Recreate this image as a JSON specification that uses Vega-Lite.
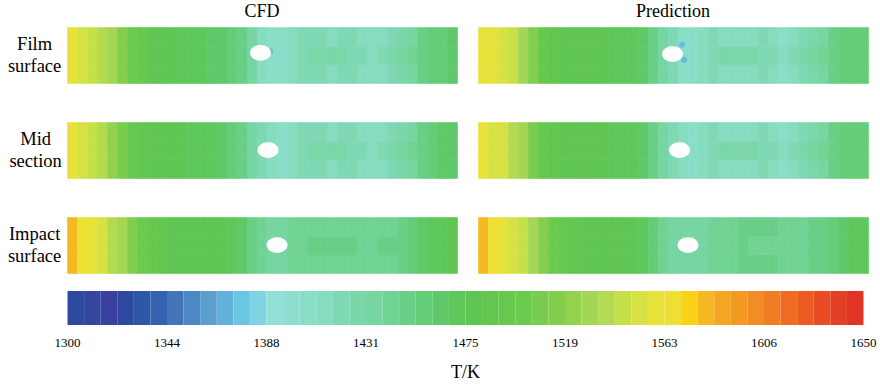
{
"$schema":"https://vega.github.io/schema/vega-lite/v6.json",
"background":"white",
"padding":{"left":7,"top":3,"right":5,"bottom":2},
"autosize":{"type":"pad"},
"config":{"view":{"stroke":null},"font":"Liberation Serif","concat":{"spacing":17}},
"datasets":{
"field":[
{"s":"Film surface","m":"CFD","x":0,"y":0,"T":1560},{"s":"Film surface","m":"CFD","x":0,"y":1,"T":1560},{"s":"Film surface","m":"CFD","x":0,"y":2,"T":1560},
{"s":"Film surface","m":"CFD","x":1,"y":0,"T":1553},{"s":"Film surface","m":"CFD","x":1,"y":1,"T":1553},{"s":"Film surface","m":"CFD","x":1,"y":2,"T":1553},
{"s":"Film surface","m":"CFD","x":2,"y":0,"T":1545},{"s":"Film surface","m":"CFD","x":2,"y":1,"T":1545},{"s":"Film surface","m":"CFD","x":2,"y":2,"T":1545},
{"s":"Film surface","m":"CFD","x":3,"y":0,"T":1538},{"s":"Film surface","m":"CFD","x":3,"y":1,"T":1538},{"s":"Film surface","m":"CFD","x":3,"y":2,"T":1538},
{"s":"Film surface","m":"CFD","x":4,"y":0,"T":1528},{"s":"Film surface","m":"CFD","x":4,"y":1,"T":1528},{"s":"Film surface","m":"CFD","x":4,"y":2,"T":1528},
{"s":"Film surface","m":"CFD","x":5,"y":0,"T":1515},{"s":"Film surface","m":"CFD","x":5,"y":1,"T":1515},{"s":"Film surface","m":"CFD","x":5,"y":2,"T":1515},
{"s":"Film surface","m":"CFD","x":6,"y":0,"T":1500},{"s":"Film surface","m":"CFD","x":6,"y":1,"T":1500},{"s":"Film surface","m":"CFD","x":6,"y":2,"T":1500},
{"s":"Film surface","m":"CFD","x":7,"y":0,"T":1490},{"s":"Film surface","m":"CFD","x":7,"y":1,"T":1490},{"s":"Film surface","m":"CFD","x":7,"y":2,"T":1490},
{"s":"Film surface","m":"CFD","x":8,"y":0,"T":1482},{"s":"Film surface","m":"CFD","x":8,"y":1,"T":1482},{"s":"Film surface","m":"CFD","x":8,"y":2,"T":1482},
{"s":"Film surface","m":"CFD","x":9,"y":0,"T":1480},{"s":"Film surface","m":"CFD","x":9,"y":1,"T":1480},{"s":"Film surface","m":"CFD","x":9,"y":2,"T":1480},
{"s":"Film surface","m":"CFD","x":10,"y":0,"T":1476},{"s":"Film surface","m":"CFD","x":10,"y":1,"T":1476},{"s":"Film surface","m":"CFD","x":10,"y":2,"T":1476},
{"s":"Film surface","m":"CFD","x":11,"y":0,"T":1472},{"s":"Film surface","m":"CFD","x":11,"y":1,"T":1472},{"s":"Film surface","m":"CFD","x":11,"y":2,"T":1472},
{"s":"Film surface","m":"CFD","x":12,"y":0,"T":1470},{"s":"Film surface","m":"CFD","x":12,"y":1,"T":1470},{"s":"Film surface","m":"CFD","x":12,"y":2,"T":1470},
{"s":"Film surface","m":"CFD","x":13,"y":0,"T":1468},{"s":"Film surface","m":"CFD","x":13,"y":1,"T":1468},{"s":"Film surface","m":"CFD","x":13,"y":2,"T":1468},
{"s":"Film surface","m":"CFD","x":14,"y":0,"T":1466},{"s":"Film surface","m":"CFD","x":14,"y":1,"T":1466},{"s":"Film surface","m":"CFD","x":14,"y":2,"T":1466},
{"s":"Film surface","m":"CFD","x":15,"y":0,"T":1462},{"s":"Film surface","m":"CFD","x":15,"y":1,"T":1462},{"s":"Film surface","m":"CFD","x":15,"y":2,"T":1462},
{"s":"Film surface","m":"CFD","x":16,"y":0,"T":1458},{"s":"Film surface","m":"CFD","x":16,"y":1,"T":1458},{"s":"Film surface","m":"CFD","x":16,"y":2,"T":1458},
{"s":"Film surface","m":"CFD","x":17,"y":0,"T":1450},{"s":"Film surface","m":"CFD","x":17,"y":1,"T":1450},{"s":"Film surface","m":"CFD","x":17,"y":2,"T":1450},
{"s":"Film surface","m":"CFD","x":18,"y":0,"T":1436},{"s":"Film surface","m":"CFD","x":18,"y":1,"T":1436},{"s":"Film surface","m":"CFD","x":18,"y":2,"T":1436},
{"s":"Film surface","m":"CFD","x":19,"y":0,"T":1415},{"s":"Film surface","m":"CFD","x":19,"y":1,"T":1415},{"s":"Film surface","m":"CFD","x":19,"y":2,"T":1415},
{"s":"Film surface","m":"CFD","x":20,"y":0,"T":1405},{"s":"Film surface","m":"CFD","x":20,"y":1,"T":1405},{"s":"Film surface","m":"CFD","x":20,"y":2,"T":1405},
{"s":"Film surface","m":"CFD","x":21,"y":0,"T":1408},{"s":"Film surface","m":"CFD","x":21,"y":1,"T":1408},{"s":"Film surface","m":"CFD","x":21,"y":2,"T":1408},
{"s":"Film surface","m":"CFD","x":22,"y":0,"T":1414},{"s":"Film surface","m":"CFD","x":22,"y":1,"T":1414},{"s":"Film surface","m":"CFD","x":22,"y":2,"T":1414},
{"s":"Film surface","m":"CFD","x":23,"y":0,"T":1420},{"s":"Film surface","m":"CFD","x":23,"y":1,"T":1420},{"s":"Film surface","m":"CFD","x":23,"y":2,"T":1420},
{"s":"Film surface","m":"CFD","x":24,"y":0,"T":1418},{"s":"Film surface","m":"CFD","x":24,"y":1,"T":1425},{"s":"Film surface","m":"CFD","x":24,"y":2,"T":1418},
{"s":"Film surface","m":"CFD","x":25,"y":0,"T":1417},{"s":"Film surface","m":"CFD","x":25,"y":1,"T":1427},{"s":"Film surface","m":"CFD","x":25,"y":2,"T":1417},
{"s":"Film surface","m":"CFD","x":26,"y":0,"T":1416},{"s":"Film surface","m":"CFD","x":26,"y":1,"T":1427},{"s":"Film surface","m":"CFD","x":26,"y":2,"T":1416},
{"s":"Film surface","m":"CFD","x":27,"y":0,"T":1417},{"s":"Film surface","m":"CFD","x":27,"y":1,"T":1425},{"s":"Film surface","m":"CFD","x":27,"y":2,"T":1417},
{"s":"Film surface","m":"CFD","x":28,"y":0,"T":1418},{"s":"Film surface","m":"CFD","x":28,"y":1,"T":1422},{"s":"Film surface","m":"CFD","x":28,"y":2,"T":1418},
{"s":"Film surface","m":"CFD","x":29,"y":0,"T":1412},{"s":"Film surface","m":"CFD","x":29,"y":1,"T":1418},{"s":"Film surface","m":"CFD","x":29,"y":2,"T":1412},
{"s":"Film surface","m":"CFD","x":30,"y":0,"T":1410},{"s":"Film surface","m":"CFD","x":30,"y":1,"T":1416},{"s":"Film surface","m":"CFD","x":30,"y":2,"T":1410},
{"s":"Film surface","m":"CFD","x":31,"y":0,"T":1412},{"s":"Film surface","m":"CFD","x":31,"y":1,"T":1418},{"s":"Film surface","m":"CFD","x":31,"y":2,"T":1412},
{"s":"Film surface","m":"CFD","x":32,"y":0,"T":1420},{"s":"Film surface","m":"CFD","x":32,"y":1,"T":1426},{"s":"Film surface","m":"CFD","x":32,"y":2,"T":1420},
{"s":"Film surface","m":"CFD","x":33,"y":0,"T":1428},{"s":"Film surface","m":"CFD","x":33,"y":1,"T":1434},{"s":"Film surface","m":"CFD","x":33,"y":2,"T":1428},
{"s":"Film surface","m":"CFD","x":34,"y":0,"T":1438},{"s":"Film surface","m":"CFD","x":34,"y":1,"T":1442},{"s":"Film surface","m":"CFD","x":34,"y":2,"T":1438},
{"s":"Film surface","m":"CFD","x":35,"y":0,"T":1450},{"s":"Film surface","m":"CFD","x":35,"y":1,"T":1450},{"s":"Film surface","m":"CFD","x":35,"y":2,"T":1450},
{"s":"Film surface","m":"CFD","x":36,"y":0,"T":1456},{"s":"Film surface","m":"CFD","x":36,"y":1,"T":1456},{"s":"Film surface","m":"CFD","x":36,"y":2,"T":1456},
{"s":"Film surface","m":"CFD","x":37,"y":0,"T":1460},{"s":"Film surface","m":"CFD","x":37,"y":1,"T":1460},{"s":"Film surface","m":"CFD","x":37,"y":2,"T":1460},
{"s":"Film surface","m":"CFD","x":38,"y":0,"T":1462},{"s":"Film surface","m":"CFD","x":38,"y":1,"T":1462},{"s":"Film surface","m":"CFD","x":38,"y":2,"T":1462},

{"s":"Mid section","m":"CFD","x":0,"y":0,"T":1562},{"s":"Mid section","m":"CFD","x":0,"y":1,"T":1562},{"s":"Mid section","m":"CFD","x":0,"y":2,"T":1562},
{"s":"Mid section","m":"CFD","x":1,"y":0,"T":1550},{"s":"Mid section","m":"CFD","x":1,"y":1,"T":1550},{"s":"Mid section","m":"CFD","x":1,"y":2,"T":1550},
{"s":"Mid section","m":"CFD","x":2,"y":0,"T":1543},{"s":"Mid section","m":"CFD","x":2,"y":1,"T":1543},{"s":"Mid section","m":"CFD","x":2,"y":2,"T":1543},
{"s":"Mid section","m":"CFD","x":3,"y":0,"T":1535},{"s":"Mid section","m":"CFD","x":3,"y":1,"T":1535},{"s":"Mid section","m":"CFD","x":3,"y":2,"T":1535},
{"s":"Mid section","m":"CFD","x":4,"y":0,"T":1522},{"s":"Mid section","m":"CFD","x":4,"y":1,"T":1522},{"s":"Mid section","m":"CFD","x":4,"y":2,"T":1522},
{"s":"Mid section","m":"CFD","x":5,"y":0,"T":1505},{"s":"Mid section","m":"CFD","x":5,"y":1,"T":1505},{"s":"Mid section","m":"CFD","x":5,"y":2,"T":1505},
{"s":"Mid section","m":"CFD","x":6,"y":0,"T":1492},{"s":"Mid section","m":"CFD","x":6,"y":1,"T":1492},{"s":"Mid section","m":"CFD","x":6,"y":2,"T":1492},
{"s":"Mid section","m":"CFD","x":7,"y":0,"T":1486},{"s":"Mid section","m":"CFD","x":7,"y":1,"T":1486},{"s":"Mid section","m":"CFD","x":7,"y":2,"T":1486},
{"s":"Mid section","m":"CFD","x":8,"y":0,"T":1482},{"s":"Mid section","m":"CFD","x":8,"y":1,"T":1482},{"s":"Mid section","m":"CFD","x":8,"y":2,"T":1482},
{"s":"Mid section","m":"CFD","x":9,"y":0,"T":1480},{"s":"Mid section","m":"CFD","x":9,"y":1,"T":1480},{"s":"Mid section","m":"CFD","x":9,"y":2,"T":1480},
{"s":"Mid section","m":"CFD","x":10,"y":0,"T":1478},{"s":"Mid section","m":"CFD","x":10,"y":1,"T":1478},{"s":"Mid section","m":"CFD","x":10,"y":2,"T":1478},
{"s":"Mid section","m":"CFD","x":11,"y":0,"T":1476},{"s":"Mid section","m":"CFD","x":11,"y":1,"T":1476},{"s":"Mid section","m":"CFD","x":11,"y":2,"T":1476},
{"s":"Mid section","m":"CFD","x":12,"y":0,"T":1474},{"s":"Mid section","m":"CFD","x":12,"y":1,"T":1474},{"s":"Mid section","m":"CFD","x":12,"y":2,"T":1474},
{"s":"Mid section","m":"CFD","x":13,"y":0,"T":1472},{"s":"Mid section","m":"CFD","x":13,"y":1,"T":1472},{"s":"Mid section","m":"CFD","x":13,"y":2,"T":1472},
{"s":"Mid section","m":"CFD","x":14,"y":0,"T":1470},{"s":"Mid section","m":"CFD","x":14,"y":1,"T":1470},{"s":"Mid section","m":"CFD","x":14,"y":2,"T":1470},
{"s":"Mid section","m":"CFD","x":15,"y":0,"T":1466},{"s":"Mid section","m":"CFD","x":15,"y":1,"T":1466},{"s":"Mid section","m":"CFD","x":15,"y":2,"T":1466},
{"s":"Mid section","m":"CFD","x":16,"y":0,"T":1460},{"s":"Mid section","m":"CFD","x":16,"y":1,"T":1460},{"s":"Mid section","m":"CFD","x":16,"y":2,"T":1460},
{"s":"Mid section","m":"CFD","x":17,"y":0,"T":1448},{"s":"Mid section","m":"CFD","x":17,"y":1,"T":1448},{"s":"Mid section","m":"CFD","x":17,"y":2,"T":1448},
{"s":"Mid section","m":"CFD","x":18,"y":0,"T":1432},{"s":"Mid section","m":"CFD","x":18,"y":1,"T":1432},{"s":"Mid section","m":"CFD","x":18,"y":2,"T":1432},
{"s":"Mid section","m":"CFD","x":19,"y":0,"T":1418},{"s":"Mid section","m":"CFD","x":19,"y":1,"T":1418},{"s":"Mid section","m":"CFD","x":19,"y":2,"T":1418},
{"s":"Mid section","m":"CFD","x":20,"y":0,"T":1410},{"s":"Mid section","m":"CFD","x":20,"y":1,"T":1410},{"s":"Mid section","m":"CFD","x":20,"y":2,"T":1410},
{"s":"Mid section","m":"CFD","x":21,"y":0,"T":1408},{"s":"Mid section","m":"CFD","x":21,"y":1,"T":1408},{"s":"Mid section","m":"CFD","x":21,"y":2,"T":1408},
{"s":"Mid section","m":"CFD","x":22,"y":0,"T":1414},{"s":"Mid section","m":"CFD","x":22,"y":1,"T":1414},{"s":"Mid section","m":"CFD","x":22,"y":2,"T":1414},
{"s":"Mid section","m":"CFD","x":23,"y":0,"T":1420},{"s":"Mid section","m":"CFD","x":23,"y":1,"T":1420},{"s":"Mid section","m":"CFD","x":23,"y":2,"T":1420},
{"s":"Mid section","m":"CFD","x":24,"y":0,"T":1418},{"s":"Mid section","m":"CFD","x":24,"y":1,"T":1425},{"s":"Mid section","m":"CFD","x":24,"y":2,"T":1418},
{"s":"Mid section","m":"CFD","x":25,"y":0,"T":1417},{"s":"Mid section","m":"CFD","x":25,"y":1,"T":1427},{"s":"Mid section","m":"CFD","x":25,"y":2,"T":1417},
{"s":"Mid section","m":"CFD","x":26,"y":0,"T":1416},{"s":"Mid section","m":"CFD","x":26,"y":1,"T":1427},{"s":"Mid section","m":"CFD","x":26,"y":2,"T":1416},
{"s":"Mid section","m":"CFD","x":27,"y":0,"T":1417},{"s":"Mid section","m":"CFD","x":27,"y":1,"T":1425},{"s":"Mid section","m":"CFD","x":27,"y":2,"T":1417},
{"s":"Mid section","m":"CFD","x":28,"y":0,"T":1418},{"s":"Mid section","m":"CFD","x":28,"y":1,"T":1422},{"s":"Mid section","m":"CFD","x":28,"y":2,"T":1418},
{"s":"Mid section","m":"CFD","x":29,"y":0,"T":1412},{"s":"Mid section","m":"CFD","x":29,"y":1,"T":1418},{"s":"Mid section","m":"CFD","x":29,"y":2,"T":1412},
{"s":"Mid section","m":"CFD","x":30,"y":0,"T":1410},{"s":"Mid section","m":"CFD","x":30,"y":1,"T":1416},{"s":"Mid section","m":"CFD","x":30,"y":2,"T":1410},
{"s":"Mid section","m":"CFD","x":31,"y":0,"T":1412},{"s":"Mid section","m":"CFD","x":31,"y":1,"T":1418},{"s":"Mid section","m":"CFD","x":31,"y":2,"T":1412},
{"s":"Mid section","m":"CFD","x":32,"y":0,"T":1420},{"s":"Mid section","m":"CFD","x":32,"y":1,"T":1426},{"s":"Mid section","m":"CFD","x":32,"y":2,"T":1420},
{"s":"Mid section","m":"CFD","x":33,"y":0,"T":1428},{"s":"Mid section","m":"CFD","x":33,"y":1,"T":1434},{"s":"Mid section","m":"CFD","x":33,"y":2,"T":1428},
{"s":"Mid section","m":"CFD","x":34,"y":0,"T":1438},{"s":"Mid section","m":"CFD","x":34,"y":1,"T":1442},{"s":"Mid section","m":"CFD","x":34,"y":2,"T":1438},
{"s":"Mid section","m":"CFD","x":35,"y":0,"T":1452},{"s":"Mid section","m":"CFD","x":35,"y":1,"T":1452},{"s":"Mid section","m":"CFD","x":35,"y":2,"T":1452},
{"s":"Mid section","m":"CFD","x":36,"y":0,"T":1458},{"s":"Mid section","m":"CFD","x":36,"y":1,"T":1458},{"s":"Mid section","m":"CFD","x":36,"y":2,"T":1458},
{"s":"Mid section","m":"CFD","x":37,"y":0,"T":1462},{"s":"Mid section","m":"CFD","x":37,"y":1,"T":1462},{"s":"Mid section","m":"CFD","x":37,"y":2,"T":1462},
{"s":"Mid section","m":"CFD","x":38,"y":0,"T":1464},{"s":"Mid section","m":"CFD","x":38,"y":1,"T":1464},{"s":"Mid section","m":"CFD","x":38,"y":2,"T":1464},

{"s":"Impact surface","m":"CFD","x":0,"y":0,"T":1582},{"s":"Impact surface","m":"CFD","x":0,"y":1,"T":1582},{"s":"Impact surface","m":"CFD","x":0,"y":2,"T":1582},
{"s":"Impact surface","m":"CFD","x":1,"y":0,"T":1563},{"s":"Impact surface","m":"CFD","x":1,"y":1,"T":1563},{"s":"Impact surface","m":"CFD","x":1,"y":2,"T":1563},
{"s":"Impact surface","m":"CFD","x":2,"y":0,"T":1558},{"s":"Impact surface","m":"CFD","x":2,"y":1,"T":1558},{"s":"Impact surface","m":"CFD","x":2,"y":2,"T":1558},
{"s":"Impact surface","m":"CFD","x":3,"y":0,"T":1550},{"s":"Impact surface","m":"CFD","x":3,"y":1,"T":1550},{"s":"Impact surface","m":"CFD","x":3,"y":2,"T":1550},
{"s":"Impact surface","m":"CFD","x":4,"y":0,"T":1540},{"s":"Impact surface","m":"CFD","x":4,"y":1,"T":1540},{"s":"Impact surface","m":"CFD","x":4,"y":2,"T":1540},
{"s":"Impact surface","m":"CFD","x":5,"y":0,"T":1528},{"s":"Impact surface","m":"CFD","x":5,"y":1,"T":1528},{"s":"Impact surface","m":"CFD","x":5,"y":2,"T":1528},
{"s":"Impact surface","m":"CFD","x":6,"y":0,"T":1515},{"s":"Impact surface","m":"CFD","x":6,"y":1,"T":1515},{"s":"Impact surface","m":"CFD","x":6,"y":2,"T":1515},
{"s":"Impact surface","m":"CFD","x":7,"y":0,"T":1500},{"s":"Impact surface","m":"CFD","x":7,"y":1,"T":1500},{"s":"Impact surface","m":"CFD","x":7,"y":2,"T":1500},
{"s":"Impact surface","m":"CFD","x":8,"y":0,"T":1490},{"s":"Impact surface","m":"CFD","x":8,"y":1,"T":1490},{"s":"Impact surface","m":"CFD","x":8,"y":2,"T":1490},
{"s":"Impact surface","m":"CFD","x":9,"y":0,"T":1483},{"s":"Impact surface","m":"CFD","x":9,"y":1,"T":1483},{"s":"Impact surface","m":"CFD","x":9,"y":2,"T":1483},
{"s":"Impact surface","m":"CFD","x":10,"y":0,"T":1480},{"s":"Impact surface","m":"CFD","x":10,"y":1,"T":1480},{"s":"Impact surface","m":"CFD","x":10,"y":2,"T":1480},
{"s":"Impact surface","m":"CFD","x":11,"y":0,"T":1479},{"s":"Impact surface","m":"CFD","x":11,"y":1,"T":1479},{"s":"Impact surface","m":"CFD","x":11,"y":2,"T":1479},
{"s":"Impact surface","m":"CFD","x":12,"y":0,"T":1478},{"s":"Impact surface","m":"CFD","x":12,"y":1,"T":1478},{"s":"Impact surface","m":"CFD","x":12,"y":2,"T":1478},
{"s":"Impact surface","m":"CFD","x":13,"y":0,"T":1477},{"s":"Impact surface","m":"CFD","x":13,"y":1,"T":1477},{"s":"Impact surface","m":"CFD","x":13,"y":2,"T":1477},
{"s":"Impact surface","m":"CFD","x":14,"y":0,"T":1476},{"s":"Impact surface","m":"CFD","x":14,"y":1,"T":1476},{"s":"Impact surface","m":"CFD","x":14,"y":2,"T":1476},
{"s":"Impact surface","m":"CFD","x":15,"y":0,"T":1475},{"s":"Impact surface","m":"CFD","x":15,"y":1,"T":1475},{"s":"Impact surface","m":"CFD","x":15,"y":2,"T":1475},
{"s":"Impact surface","m":"CFD","x":16,"y":0,"T":1474},{"s":"Impact surface","m":"CFD","x":16,"y":1,"T":1474},{"s":"Impact surface","m":"CFD","x":16,"y":2,"T":1474},
{"s":"Impact surface","m":"CFD","x":17,"y":0,"T":1462},{"s":"Impact surface","m":"CFD","x":17,"y":1,"T":1462},{"s":"Impact surface","m":"CFD","x":17,"y":2,"T":1462},
{"s":"Impact surface","m":"CFD","x":18,"y":0,"T":1448},{"s":"Impact surface","m":"CFD","x":18,"y":1,"T":1448},{"s":"Impact surface","m":"CFD","x":18,"y":2,"T":1448},
{"s":"Impact surface","m":"CFD","x":19,"y":0,"T":1440},{"s":"Impact surface","m":"CFD","x":19,"y":1,"T":1440},{"s":"Impact surface","m":"CFD","x":19,"y":2,"T":1440},
{"s":"Impact surface","m":"CFD","x":20,"y":0,"T":1436},{"s":"Impact surface","m":"CFD","x":20,"y":1,"T":1436},{"s":"Impact surface","m":"CFD","x":20,"y":2,"T":1436},
{"s":"Impact surface","m":"CFD","x":21,"y":0,"T":1436},{"s":"Impact surface","m":"CFD","x":21,"y":1,"T":1436},{"s":"Impact surface","m":"CFD","x":21,"y":2,"T":1436},
{"s":"Impact surface","m":"CFD","x":22,"y":0,"T":1440},{"s":"Impact surface","m":"CFD","x":22,"y":1,"T":1440},{"s":"Impact surface","m":"CFD","x":22,"y":2,"T":1440},
{"s":"Impact surface","m":"CFD","x":23,"y":0,"T":1444},{"s":"Impact surface","m":"CFD","x":23,"y":1,"T":1444},{"s":"Impact surface","m":"CFD","x":23,"y":2,"T":1444},
{"s":"Impact surface","m":"CFD","x":24,"y":0,"T":1444},{"s":"Impact surface","m":"CFD","x":24,"y":1,"T":1448},{"s":"Impact surface","m":"CFD","x":24,"y":2,"T":1444},
{"s":"Impact surface","m":"CFD","x":25,"y":0,"T":1442},{"s":"Impact surface","m":"CFD","x":25,"y":1,"T":1450},{"s":"Impact surface","m":"CFD","x":25,"y":2,"T":1442},
{"s":"Impact surface","m":"CFD","x":26,"y":0,"T":1442},{"s":"Impact surface","m":"CFD","x":26,"y":1,"T":1450},{"s":"Impact surface","m":"CFD","x":26,"y":2,"T":1442},
{"s":"Impact surface","m":"CFD","x":27,"y":0,"T":1444},{"s":"Impact surface","m":"CFD","x":27,"y":1,"T":1448},{"s":"Impact surface","m":"CFD","x":27,"y":2,"T":1444},
{"s":"Impact surface","m":"CFD","x":28,"y":0,"T":1442},{"s":"Impact surface","m":"CFD","x":28,"y":1,"T":1446},{"s":"Impact surface","m":"CFD","x":28,"y":2,"T":1442},
{"s":"Impact surface","m":"CFD","x":29,"y":0,"T":1440},{"s":"Impact surface","m":"CFD","x":29,"y":1,"T":1444},{"s":"Impact surface","m":"CFD","x":29,"y":2,"T":1440},
{"s":"Impact surface","m":"CFD","x":30,"y":0,"T":1440},{"s":"Impact surface","m":"CFD","x":30,"y":1,"T":1444},{"s":"Impact surface","m":"CFD","x":30,"y":2,"T":1440},
{"s":"Impact surface","m":"CFD","x":31,"y":0,"T":1442},{"s":"Impact surface","m":"CFD","x":31,"y":1,"T":1446},{"s":"Impact surface","m":"CFD","x":31,"y":2,"T":1442},
{"s":"Impact surface","m":"CFD","x":32,"y":0,"T":1444},{"s":"Impact surface","m":"CFD","x":32,"y":1,"T":1448},{"s":"Impact surface","m":"CFD","x":32,"y":2,"T":1444},
{"s":"Impact surface","m":"CFD","x":33,"y":0,"T":1448},{"s":"Impact surface","m":"CFD","x":33,"y":1,"T":1450},{"s":"Impact surface","m":"CFD","x":33,"y":2,"T":1448},
{"s":"Impact surface","m":"CFD","x":34,"y":0,"T":1455},{"s":"Impact surface","m":"CFD","x":34,"y":1,"T":1455},{"s":"Impact surface","m":"CFD","x":34,"y":2,"T":1455},
{"s":"Impact surface","m":"CFD","x":35,"y":0,"T":1462},{"s":"Impact surface","m":"CFD","x":35,"y":1,"T":1462},{"s":"Impact surface","m":"CFD","x":35,"y":2,"T":1462},
{"s":"Impact surface","m":"CFD","x":36,"y":0,"T":1470},{"s":"Impact surface","m":"CFD","x":36,"y":1,"T":1470},{"s":"Impact surface","m":"CFD","x":36,"y":2,"T":1470},
{"s":"Impact surface","m":"CFD","x":37,"y":0,"T":1474},{"s":"Impact surface","m":"CFD","x":37,"y":1,"T":1474},{"s":"Impact surface","m":"CFD","x":37,"y":2,"T":1474},
{"s":"Impact surface","m":"CFD","x":38,"y":0,"T":1476},{"s":"Impact surface","m":"CFD","x":38,"y":1,"T":1476},{"s":"Impact surface","m":"CFD","x":38,"y":2,"T":1476},

{"s":"Film surface","m":"Prediction","x":0,"y":0,"T":1560},{"s":"Film surface","m":"Prediction","x":0,"y":1,"T":1560},{"s":"Film surface","m":"Prediction","x":0,"y":2,"T":1560},
{"s":"Film surface","m":"Prediction","x":1,"y":0,"T":1556},{"s":"Film surface","m":"Prediction","x":1,"y":1,"T":1556},{"s":"Film surface","m":"Prediction","x":1,"y":2,"T":1556},
{"s":"Film surface","m":"Prediction","x":2,"y":0,"T":1552},{"s":"Film surface","m":"Prediction","x":2,"y":1,"T":1552},{"s":"Film surface","m":"Prediction","x":2,"y":2,"T":1552},
{"s":"Film surface","m":"Prediction","x":3,"y":0,"T":1542},{"s":"Film surface","m":"Prediction","x":3,"y":1,"T":1542},{"s":"Film surface","m":"Prediction","x":3,"y":2,"T":1542},
{"s":"Film surface","m":"Prediction","x":4,"y":0,"T":1530},{"s":"Film surface","m":"Prediction","x":4,"y":1,"T":1530},{"s":"Film surface","m":"Prediction","x":4,"y":2,"T":1530},
{"s":"Film surface","m":"Prediction","x":5,"y":0,"T":1512},{"s":"Film surface","m":"Prediction","x":5,"y":1,"T":1512},{"s":"Film surface","m":"Prediction","x":5,"y":2,"T":1512},
{"s":"Film surface","m":"Prediction","x":6,"y":0,"T":1495},{"s":"Film surface","m":"Prediction","x":6,"y":1,"T":1495},{"s":"Film surface","m":"Prediction","x":6,"y":2,"T":1495},
{"s":"Film surface","m":"Prediction","x":7,"y":0,"T":1486},{"s":"Film surface","m":"Prediction","x":7,"y":1,"T":1486},{"s":"Film surface","m":"Prediction","x":7,"y":2,"T":1486},
{"s":"Film surface","m":"Prediction","x":8,"y":0,"T":1482},{"s":"Film surface","m":"Prediction","x":8,"y":1,"T":1482},{"s":"Film surface","m":"Prediction","x":8,"y":2,"T":1482},
{"s":"Film surface","m":"Prediction","x":9,"y":0,"T":1480},{"s":"Film surface","m":"Prediction","x":9,"y":1,"T":1480},{"s":"Film surface","m":"Prediction","x":9,"y":2,"T":1480},
{"s":"Film surface","m":"Prediction","x":10,"y":0,"T":1478},{"s":"Film surface","m":"Prediction","x":10,"y":1,"T":1478},{"s":"Film surface","m":"Prediction","x":10,"y":2,"T":1478},
{"s":"Film surface","m":"Prediction","x":11,"y":0,"T":1476},{"s":"Film surface","m":"Prediction","x":11,"y":1,"T":1476},{"s":"Film surface","m":"Prediction","x":11,"y":2,"T":1476},
{"s":"Film surface","m":"Prediction","x":12,"y":0,"T":1475},{"s":"Film surface","m":"Prediction","x":12,"y":1,"T":1475},{"s":"Film surface","m":"Prediction","x":12,"y":2,"T":1475},
{"s":"Film surface","m":"Prediction","x":13,"y":0,"T":1474},{"s":"Film surface","m":"Prediction","x":13,"y":1,"T":1474},{"s":"Film surface","m":"Prediction","x":13,"y":2,"T":1474},
{"s":"Film surface","m":"Prediction","x":14,"y":0,"T":1472},{"s":"Film surface","m":"Prediction","x":14,"y":1,"T":1472},{"s":"Film surface","m":"Prediction","x":14,"y":2,"T":1472},
{"s":"Film surface","m":"Prediction","x":15,"y":0,"T":1468},{"s":"Film surface","m":"Prediction","x":15,"y":1,"T":1468},{"s":"Film surface","m":"Prediction","x":15,"y":2,"T":1468},
{"s":"Film surface","m":"Prediction","x":16,"y":0,"T":1462},{"s":"Film surface","m":"Prediction","x":16,"y":1,"T":1462},{"s":"Film surface","m":"Prediction","x":16,"y":2,"T":1462},
{"s":"Film surface","m":"Prediction","x":17,"y":0,"T":1450},{"s":"Film surface","m":"Prediction","x":17,"y":1,"T":1450},{"s":"Film surface","m":"Prediction","x":17,"y":2,"T":1450},
{"s":"Film surface","m":"Prediction","x":18,"y":0,"T":1435},{"s":"Film surface","m":"Prediction","x":18,"y":1,"T":1435},{"s":"Film surface","m":"Prediction","x":18,"y":2,"T":1435},
{"s":"Film surface","m":"Prediction","x":19,"y":0,"T":1418},{"s":"Film surface","m":"Prediction","x":19,"y":1,"T":1418},{"s":"Film surface","m":"Prediction","x":19,"y":2,"T":1418},
{"s":"Film surface","m":"Prediction","x":20,"y":0,"T":1408},{"s":"Film surface","m":"Prediction","x":20,"y":1,"T":1408},{"s":"Film surface","m":"Prediction","x":20,"y":2,"T":1408},
{"s":"Film surface","m":"Prediction","x":21,"y":0,"T":1406},{"s":"Film surface","m":"Prediction","x":21,"y":1,"T":1406},{"s":"Film surface","m":"Prediction","x":21,"y":2,"T":1406},
{"s":"Film surface","m":"Prediction","x":22,"y":0,"T":1410},{"s":"Film surface","m":"Prediction","x":22,"y":1,"T":1410},{"s":"Film surface","m":"Prediction","x":22,"y":2,"T":1410},
{"s":"Film surface","m":"Prediction","x":23,"y":0,"T":1418},{"s":"Film surface","m":"Prediction","x":23,"y":1,"T":1418},{"s":"Film surface","m":"Prediction","x":23,"y":2,"T":1418},
{"s":"Film surface","m":"Prediction","x":24,"y":0,"T":1416},{"s":"Film surface","m":"Prediction","x":24,"y":1,"T":1425},{"s":"Film surface","m":"Prediction","x":24,"y":2,"T":1416},
{"s":"Film surface","m":"Prediction","x":25,"y":0,"T":1415},{"s":"Film surface","m":"Prediction","x":25,"y":1,"T":1427},{"s":"Film surface","m":"Prediction","x":25,"y":2,"T":1415},
{"s":"Film surface","m":"Prediction","x":26,"y":0,"T":1415},{"s":"Film surface","m":"Prediction","x":26,"y":1,"T":1427},{"s":"Film surface","m":"Prediction","x":26,"y":2,"T":1415},
{"s":"Film surface","m":"Prediction","x":27,"y":0,"T":1416},{"s":"Film surface","m":"Prediction","x":27,"y":1,"T":1425},{"s":"Film surface","m":"Prediction","x":27,"y":2,"T":1416},
{"s":"Film surface","m":"Prediction","x":28,"y":0,"T":1418},{"s":"Film surface","m":"Prediction","x":28,"y":1,"T":1422},{"s":"Film surface","m":"Prediction","x":28,"y":2,"T":1418},
{"s":"Film surface","m":"Prediction","x":29,"y":0,"T":1410},{"s":"Film surface","m":"Prediction","x":29,"y":1,"T":1418},{"s":"Film surface","m":"Prediction","x":29,"y":2,"T":1410},
{"s":"Film surface","m":"Prediction","x":30,"y":0,"T":1408},{"s":"Film surface","m":"Prediction","x":30,"y":1,"T":1416},{"s":"Film surface","m":"Prediction","x":30,"y":2,"T":1408},
{"s":"Film surface","m":"Prediction","x":31,"y":0,"T":1410},{"s":"Film surface","m":"Prediction","x":31,"y":1,"T":1418},{"s":"Film surface","m":"Prediction","x":31,"y":2,"T":1410},
{"s":"Film surface","m":"Prediction","x":32,"y":0,"T":1420},{"s":"Film surface","m":"Prediction","x":32,"y":1,"T":1426},{"s":"Film surface","m":"Prediction","x":32,"y":2,"T":1420},
{"s":"Film surface","m":"Prediction","x":33,"y":0,"T":1428},{"s":"Film surface","m":"Prediction","x":33,"y":1,"T":1434},{"s":"Film surface","m":"Prediction","x":33,"y":2,"T":1428},
{"s":"Film surface","m":"Prediction","x":34,"y":0,"T":1438},{"s":"Film surface","m":"Prediction","x":34,"y":1,"T":1442},{"s":"Film surface","m":"Prediction","x":34,"y":2,"T":1438},
{"s":"Film surface","m":"Prediction","x":35,"y":0,"T":1450},{"s":"Film surface","m":"Prediction","x":35,"y":1,"T":1450},{"s":"Film surface","m":"Prediction","x":35,"y":2,"T":1450},
{"s":"Film surface","m":"Prediction","x":36,"y":0,"T":1455},{"s":"Film surface","m":"Prediction","x":36,"y":1,"T":1455},{"s":"Film surface","m":"Prediction","x":36,"y":2,"T":1455},
{"s":"Film surface","m":"Prediction","x":37,"y":0,"T":1458},{"s":"Film surface","m":"Prediction","x":37,"y":1,"T":1458},{"s":"Film surface","m":"Prediction","x":37,"y":2,"T":1458},
{"s":"Film surface","m":"Prediction","x":38,"y":0,"T":1460},{"s":"Film surface","m":"Prediction","x":38,"y":1,"T":1460},{"s":"Film surface","m":"Prediction","x":38,"y":2,"T":1460},

{"s":"Mid section","m":"Prediction","x":0,"y":0,"T":1560},{"s":"Mid section","m":"Prediction","x":0,"y":1,"T":1560},{"s":"Mid section","m":"Prediction","x":0,"y":2,"T":1560},
{"s":"Mid section","m":"Prediction","x":1,"y":0,"T":1555},{"s":"Mid section","m":"Prediction","x":1,"y":1,"T":1555},{"s":"Mid section","m":"Prediction","x":1,"y":2,"T":1555},
{"s":"Mid section","m":"Prediction","x":2,"y":0,"T":1548},{"s":"Mid section","m":"Prediction","x":2,"y":1,"T":1548},{"s":"Mid section","m":"Prediction","x":2,"y":2,"T":1548},
{"s":"Mid section","m":"Prediction","x":3,"y":0,"T":1540},{"s":"Mid section","m":"Prediction","x":3,"y":1,"T":1540},{"s":"Mid section","m":"Prediction","x":3,"y":2,"T":1540},
{"s":"Mid section","m":"Prediction","x":4,"y":0,"T":1528},{"s":"Mid section","m":"Prediction","x":4,"y":1,"T":1528},{"s":"Mid section","m":"Prediction","x":4,"y":2,"T":1528},
{"s":"Mid section","m":"Prediction","x":5,"y":0,"T":1510},{"s":"Mid section","m":"Prediction","x":5,"y":1,"T":1510},{"s":"Mid section","m":"Prediction","x":5,"y":2,"T":1510},
{"s":"Mid section","m":"Prediction","x":6,"y":0,"T":1494},{"s":"Mid section","m":"Prediction","x":6,"y":1,"T":1494},{"s":"Mid section","m":"Prediction","x":6,"y":2,"T":1494},
{"s":"Mid section","m":"Prediction","x":7,"y":0,"T":1486},{"s":"Mid section","m":"Prediction","x":7,"y":1,"T":1486},{"s":"Mid section","m":"Prediction","x":7,"y":2,"T":1486},
{"s":"Mid section","m":"Prediction","x":8,"y":0,"T":1482},{"s":"Mid section","m":"Prediction","x":8,"y":1,"T":1482},{"s":"Mid section","m":"Prediction","x":8,"y":2,"T":1482},
{"s":"Mid section","m":"Prediction","x":9,"y":0,"T":1480},{"s":"Mid section","m":"Prediction","x":9,"y":1,"T":1480},{"s":"Mid section","m":"Prediction","x":9,"y":2,"T":1480},
{"s":"Mid section","m":"Prediction","x":10,"y":0,"T":1478},{"s":"Mid section","m":"Prediction","x":10,"y":1,"T":1478},{"s":"Mid section","m":"Prediction","x":10,"y":2,"T":1478},
{"s":"Mid section","m":"Prediction","x":11,"y":0,"T":1476},{"s":"Mid section","m":"Prediction","x":11,"y":1,"T":1476},{"s":"Mid section","m":"Prediction","x":11,"y":2,"T":1476},
{"s":"Mid section","m":"Prediction","x":12,"y":0,"T":1475},{"s":"Mid section","m":"Prediction","x":12,"y":1,"T":1475},{"s":"Mid section","m":"Prediction","x":12,"y":2,"T":1475},
{"s":"Mid section","m":"Prediction","x":13,"y":0,"T":1474},{"s":"Mid section","m":"Prediction","x":13,"y":1,"T":1474},{"s":"Mid section","m":"Prediction","x":13,"y":2,"T":1474},
{"s":"Mid section","m":"Prediction","x":14,"y":0,"T":1472},{"s":"Mid section","m":"Prediction","x":14,"y":1,"T":1472},{"s":"Mid section","m":"Prediction","x":14,"y":2,"T":1472},
{"s":"Mid section","m":"Prediction","x":15,"y":0,"T":1468},{"s":"Mid section","m":"Prediction","x":15,"y":1,"T":1468},{"s":"Mid section","m":"Prediction","x":15,"y":2,"T":1468},
{"s":"Mid section","m":"Prediction","x":16,"y":0,"T":1462},{"s":"Mid section","m":"Prediction","x":16,"y":1,"T":1462},{"s":"Mid section","m":"Prediction","x":16,"y":2,"T":1462},
{"s":"Mid section","m":"Prediction","x":17,"y":0,"T":1450},{"s":"Mid section","m":"Prediction","x":17,"y":1,"T":1450},{"s":"Mid section","m":"Prediction","x":17,"y":2,"T":1450},
{"s":"Mid section","m":"Prediction","x":18,"y":0,"T":1436},{"s":"Mid section","m":"Prediction","x":18,"y":1,"T":1436},{"s":"Mid section","m":"Prediction","x":18,"y":2,"T":1436},
{"s":"Mid section","m":"Prediction","x":19,"y":0,"T":1420},{"s":"Mid section","m":"Prediction","x":19,"y":1,"T":1420},{"s":"Mid section","m":"Prediction","x":19,"y":2,"T":1420},
{"s":"Mid section","m":"Prediction","x":20,"y":0,"T":1410},{"s":"Mid section","m":"Prediction","x":20,"y":1,"T":1410},{"s":"Mid section","m":"Prediction","x":20,"y":2,"T":1410},
{"s":"Mid section","m":"Prediction","x":21,"y":0,"T":1408},{"s":"Mid section","m":"Prediction","x":21,"y":1,"T":1408},{"s":"Mid section","m":"Prediction","x":21,"y":2,"T":1408},
{"s":"Mid section","m":"Prediction","x":22,"y":0,"T":1412},{"s":"Mid section","m":"Prediction","x":22,"y":1,"T":1412},{"s":"Mid section","m":"Prediction","x":22,"y":2,"T":1412},
{"s":"Mid section","m":"Prediction","x":23,"y":0,"T":1418},{"s":"Mid section","m":"Prediction","x":23,"y":1,"T":1418},{"s":"Mid section","m":"Prediction","x":23,"y":2,"T":1418},
{"s":"Mid section","m":"Prediction","x":24,"y":0,"T":1416},{"s":"Mid section","m":"Prediction","x":24,"y":1,"T":1425},{"s":"Mid section","m":"Prediction","x":24,"y":2,"T":1416},
{"s":"Mid section","m":"Prediction","x":25,"y":0,"T":1415},{"s":"Mid section","m":"Prediction","x":25,"y":1,"T":1427},{"s":"Mid section","m":"Prediction","x":25,"y":2,"T":1415},
{"s":"Mid section","m":"Prediction","x":26,"y":0,"T":1415},{"s":"Mid section","m":"Prediction","x":26,"y":1,"T":1427},{"s":"Mid section","m":"Prediction","x":26,"y":2,"T":1415},
{"s":"Mid section","m":"Prediction","x":27,"y":0,"T":1416},{"s":"Mid section","m":"Prediction","x":27,"y":1,"T":1425},{"s":"Mid section","m":"Prediction","x":27,"y":2,"T":1416},
{"s":"Mid section","m":"Prediction","x":28,"y":0,"T":1418},{"s":"Mid section","m":"Prediction","x":28,"y":1,"T":1422},{"s":"Mid section","m":"Prediction","x":28,"y":2,"T":1418},
{"s":"Mid section","m":"Prediction","x":29,"y":0,"T":1410},{"s":"Mid section","m":"Prediction","x":29,"y":1,"T":1418},{"s":"Mid section","m":"Prediction","x":29,"y":2,"T":1410},
{"s":"Mid section","m":"Prediction","x":30,"y":0,"T":1408},{"s":"Mid section","m":"Prediction","x":30,"y":1,"T":1416},{"s":"Mid section","m":"Prediction","x":30,"y":2,"T":1408},
{"s":"Mid section","m":"Prediction","x":31,"y":0,"T":1410},{"s":"Mid section","m":"Prediction","x":31,"y":1,"T":1418},{"s":"Mid section","m":"Prediction","x":31,"y":2,"T":1410},
{"s":"Mid section","m":"Prediction","x":32,"y":0,"T":1420},{"s":"Mid section","m":"Prediction","x":32,"y":1,"T":1426},{"s":"Mid section","m":"Prediction","x":32,"y":2,"T":1420},
{"s":"Mid section","m":"Prediction","x":33,"y":0,"T":1428},{"s":"Mid section","m":"Prediction","x":33,"y":1,"T":1434},{"s":"Mid section","m":"Prediction","x":33,"y":2,"T":1428},
{"s":"Mid section","m":"Prediction","x":34,"y":0,"T":1438},{"s":"Mid section","m":"Prediction","x":34,"y":1,"T":1442},{"s":"Mid section","m":"Prediction","x":34,"y":2,"T":1438},
{"s":"Mid section","m":"Prediction","x":35,"y":0,"T":1450},{"s":"Mid section","m":"Prediction","x":35,"y":1,"T":1450},{"s":"Mid section","m":"Prediction","x":35,"y":2,"T":1450},
{"s":"Mid section","m":"Prediction","x":36,"y":0,"T":1455},{"s":"Mid section","m":"Prediction","x":36,"y":1,"T":1455},{"s":"Mid section","m":"Prediction","x":36,"y":2,"T":1455},
{"s":"Mid section","m":"Prediction","x":37,"y":0,"T":1458},{"s":"Mid section","m":"Prediction","x":37,"y":1,"T":1458},{"s":"Mid section","m":"Prediction","x":37,"y":2,"T":1458},
{"s":"Mid section","m":"Prediction","x":38,"y":0,"T":1460},{"s":"Mid section","m":"Prediction","x":38,"y":1,"T":1460},{"s":"Mid section","m":"Prediction","x":38,"y":2,"T":1460},

{"s":"Impact surface","m":"Prediction","x":0,"y":0,"T":1582},{"s":"Impact surface","m":"Prediction","x":0,"y":1,"T":1582},{"s":"Impact surface","m":"Prediction","x":0,"y":2,"T":1582},
{"s":"Impact surface","m":"Prediction","x":1,"y":0,"T":1565},{"s":"Impact surface","m":"Prediction","x":1,"y":1,"T":1565},{"s":"Impact surface","m":"Prediction","x":1,"y":2,"T":1565},
{"s":"Impact surface","m":"Prediction","x":2,"y":0,"T":1560},{"s":"Impact surface","m":"Prediction","x":2,"y":1,"T":1560},{"s":"Impact surface","m":"Prediction","x":2,"y":2,"T":1560},
{"s":"Impact surface","m":"Prediction","x":3,"y":0,"T":1555},{"s":"Impact surface","m":"Prediction","x":3,"y":1,"T":1555},{"s":"Impact surface","m":"Prediction","x":3,"y":2,"T":1555},
{"s":"Impact surface","m":"Prediction","x":4,"y":0,"T":1545},{"s":"Impact surface","m":"Prediction","x":4,"y":1,"T":1545},{"s":"Impact surface","m":"Prediction","x":4,"y":2,"T":1545},
{"s":"Impact surface","m":"Prediction","x":5,"y":0,"T":1532},{"s":"Impact surface","m":"Prediction","x":5,"y":1,"T":1532},{"s":"Impact surface","m":"Prediction","x":5,"y":2,"T":1532},
{"s":"Impact surface","m":"Prediction","x":6,"y":0,"T":1518},{"s":"Impact surface","m":"Prediction","x":6,"y":1,"T":1518},{"s":"Impact surface","m":"Prediction","x":6,"y":2,"T":1518},
{"s":"Impact surface","m":"Prediction","x":7,"y":0,"T":1502},{"s":"Impact surface","m":"Prediction","x":7,"y":1,"T":1502},{"s":"Impact surface","m":"Prediction","x":7,"y":2,"T":1502},
{"s":"Impact surface","m":"Prediction","x":8,"y":0,"T":1490},{"s":"Impact surface","m":"Prediction","x":8,"y":1,"T":1490},{"s":"Impact surface","m":"Prediction","x":8,"y":2,"T":1490},
{"s":"Impact surface","m":"Prediction","x":9,"y":0,"T":1484},{"s":"Impact surface","m":"Prediction","x":9,"y":1,"T":1484},{"s":"Impact surface","m":"Prediction","x":9,"y":2,"T":1484},
{"s":"Impact surface","m":"Prediction","x":10,"y":0,"T":1481},{"s":"Impact surface","m":"Prediction","x":10,"y":1,"T":1481},{"s":"Impact surface","m":"Prediction","x":10,"y":2,"T":1481},
{"s":"Impact surface","m":"Prediction","x":11,"y":0,"T":1479},{"s":"Impact surface","m":"Prediction","x":11,"y":1,"T":1479},{"s":"Impact surface","m":"Prediction","x":11,"y":2,"T":1479},
{"s":"Impact surface","m":"Prediction","x":12,"y":0,"T":1478},{"s":"Impact surface","m":"Prediction","x":12,"y":1,"T":1478},{"s":"Impact surface","m":"Prediction","x":12,"y":2,"T":1478},
{"s":"Impact surface","m":"Prediction","x":13,"y":0,"T":1477},{"s":"Impact surface","m":"Prediction","x":13,"y":1,"T":1477},{"s":"Impact surface","m":"Prediction","x":13,"y":2,"T":1477},
{"s":"Impact surface","m":"Prediction","x":14,"y":0,"T":1476},{"s":"Impact surface","m":"Prediction","x":14,"y":1,"T":1476},{"s":"Impact surface","m":"Prediction","x":14,"y":2,"T":1476},
{"s":"Impact surface","m":"Prediction","x":15,"y":0,"T":1475},{"s":"Impact surface","m":"Prediction","x":15,"y":1,"T":1475},{"s":"Impact surface","m":"Prediction","x":15,"y":2,"T":1475},
{"s":"Impact surface","m":"Prediction","x":16,"y":0,"T":1474},{"s":"Impact surface","m":"Prediction","x":16,"y":1,"T":1474},{"s":"Impact surface","m":"Prediction","x":16,"y":2,"T":1474},
{"s":"Impact surface","m":"Prediction","x":17,"y":0,"T":1455},{"s":"Impact surface","m":"Prediction","x":17,"y":1,"T":1455},{"s":"Impact surface","m":"Prediction","x":17,"y":2,"T":1455},
{"s":"Impact surface","m":"Prediction","x":18,"y":0,"T":1442},{"s":"Impact surface","m":"Prediction","x":18,"y":1,"T":1442},{"s":"Impact surface","m":"Prediction","x":18,"y":2,"T":1442},
{"s":"Impact surface","m":"Prediction","x":19,"y":0,"T":1436},{"s":"Impact surface","m":"Prediction","x":19,"y":1,"T":1436},{"s":"Impact surface","m":"Prediction","x":19,"y":2,"T":1436},
{"s":"Impact surface","m":"Prediction","x":20,"y":0,"T":1432},{"s":"Impact surface","m":"Prediction","x":20,"y":1,"T":1432},{"s":"Impact surface","m":"Prediction","x":20,"y":2,"T":1432},
{"s":"Impact surface","m":"Prediction","x":21,"y":0,"T":1432},{"s":"Impact surface","m":"Prediction","x":21,"y":1,"T":1432},{"s":"Impact surface","m":"Prediction","x":21,"y":2,"T":1432},
{"s":"Impact surface","m":"Prediction","x":22,"y":0,"T":1436},{"s":"Impact surface","m":"Prediction","x":22,"y":1,"T":1436},{"s":"Impact surface","m":"Prediction","x":22,"y":2,"T":1436},
{"s":"Impact surface","m":"Prediction","x":23,"y":0,"T":1440},{"s":"Impact surface","m":"Prediction","x":23,"y":1,"T":1440},{"s":"Impact surface","m":"Prediction","x":23,"y":2,"T":1440},
{"s":"Impact surface","m":"Prediction","x":24,"y":0,"T":1442},{"s":"Impact surface","m":"Prediction","x":24,"y":1,"T":1442},{"s":"Impact surface","m":"Prediction","x":24,"y":2,"T":1442},
{"s":"Impact surface","m":"Prediction","x":25,"y":0,"T":1444},{"s":"Impact surface","m":"Prediction","x":25,"y":1,"T":1444},{"s":"Impact surface","m":"Prediction","x":25,"y":2,"T":1444},
{"s":"Impact surface","m":"Prediction","x":26,"y":0,"T":1446},{"s":"Impact surface","m":"Prediction","x":26,"y":1,"T":1446},{"s":"Impact surface","m":"Prediction","x":26,"y":2,"T":1446},
{"s":"Impact surface","m":"Prediction","x":27,"y":0,"T":1446},{"s":"Impact surface","m":"Prediction","x":27,"y":1,"T":1440},{"s":"Impact surface","m":"Prediction","x":27,"y":2,"T":1446},
{"s":"Impact surface","m":"Prediction","x":28,"y":0,"T":1446},{"s":"Impact surface","m":"Prediction","x":28,"y":1,"T":1440},{"s":"Impact surface","m":"Prediction","x":28,"y":2,"T":1446},
{"s":"Impact surface","m":"Prediction","x":29,"y":0,"T":1446},{"s":"Impact surface","m":"Prediction","x":29,"y":1,"T":1440},{"s":"Impact surface","m":"Prediction","x":29,"y":2,"T":1446},
{"s":"Impact surface","m":"Prediction","x":30,"y":0,"T":1444},{"s":"Impact surface","m":"Prediction","x":30,"y":1,"T":1444},{"s":"Impact surface","m":"Prediction","x":30,"y":2,"T":1444},
{"s":"Impact surface","m":"Prediction","x":31,"y":0,"T":1444},{"s":"Impact surface","m":"Prediction","x":31,"y":1,"T":1444},{"s":"Impact surface","m":"Prediction","x":31,"y":2,"T":1444},
{"s":"Impact surface","m":"Prediction","x":32,"y":0,"T":1444},{"s":"Impact surface","m":"Prediction","x":32,"y":1,"T":1444},{"s":"Impact surface","m":"Prediction","x":32,"y":2,"T":1444},
{"s":"Impact surface","m":"Prediction","x":33,"y":0,"T":1446},{"s":"Impact surface","m":"Prediction","x":33,"y":1,"T":1446},{"s":"Impact surface","m":"Prediction","x":33,"y":2,"T":1446},
{"s":"Impact surface","m":"Prediction","x":34,"y":0,"T":1452},{"s":"Impact surface","m":"Prediction","x":34,"y":1,"T":1452},{"s":"Impact surface","m":"Prediction","x":34,"y":2,"T":1452},
{"s":"Impact surface","m":"Prediction","x":35,"y":0,"T":1458},{"s":"Impact surface","m":"Prediction","x":35,"y":1,"T":1458},{"s":"Impact surface","m":"Prediction","x":35,"y":2,"T":1458},
{"s":"Impact surface","m":"Prediction","x":36,"y":0,"T":1465},{"s":"Impact surface","m":"Prediction","x":36,"y":1,"T":1465},{"s":"Impact surface","m":"Prediction","x":36,"y":2,"T":1465},
{"s":"Impact surface","m":"Prediction","x":37,"y":0,"T":1470},{"s":"Impact surface","m":"Prediction","x":37,"y":1,"T":1470},{"s":"Impact surface","m":"Prediction","x":37,"y":2,"T":1470},
{"s":"Impact surface","m":"Prediction","x":38,"y":0,"T":1472},{"s":"Impact surface","m":"Prediction","x":38,"y":1,"T":1472},{"s":"Impact surface","m":"Prediction","x":38,"y":2,"T":1472},

{"s":"Film surface","m":"CFD","bx":20.3,"by":1.7},
{"s":"Film surface","m":"Prediction","bx":20.4,"by":2.05},
{"s":"Film surface","m":"Prediction","bx":20.6,"by":1.25},

{"s":"Film surface","m":"CFD","hx":19.35,"hy":1.62},
{"s":"Mid section","m":"CFD","hx":20.1,"hy":1.5},
{"s":"Impact surface","m":"CFD","hx":21.0,"hy":1.5},
{"s":"Film surface","m":"Prediction","hx":19.45,"hy":1.55},
{"s":"Mid section","m":"Prediction","hx":20.15,"hy":1.5},
{"s":"Impact surface","m":"Prediction","hx":21.0,"hy":1.5}
],
"bar":[
{"T":1303.65},{"T":1310.94},{"T":1318.23},{"T":1325.52},{"T":1332.81},{"T":1340.10},{"T":1347.40},{"T":1354.69},
{"T":1361.98},{"T":1369.27},{"T":1376.56},{"T":1383.85},{"T":1391.15},{"T":1398.44},{"T":1405.73},{"T":1413.02},
{"T":1420.31},{"T":1427.60},{"T":1434.90},{"T":1442.19},{"T":1449.48},{"T":1456.77},{"T":1464.06},{"T":1471.35},
{"T":1478.65},{"T":1485.94},{"T":1493.23},{"T":1500.52},{"T":1507.81},{"T":1515.10},{"T":1522.40},{"T":1529.69},
{"T":1536.98},{"T":1544.27},{"T":1551.56},{"T":1558.85},{"T":1566.15},{"T":1573.44},{"T":1580.73},{"T":1588.02},
{"T":1595.31},{"T":1602.60},{"T":1609.90},{"T":1617.19},{"T":1624.48},{"T":1631.77},{"T":1639.06},{"T":1646.35}
]
},
"vconcat":[
{
"data":{"name":"field"},
"facet":{
"row":{"field":"s","type":"nominal","sort":["Film surface","Mid section","Impact surface"],
"header":{"title":null,"labelAngle":0,"labelOrient":"left","labelAlign":"center","labelBaseline":"line-bottom","labelExpr":"split(datum.value, ' ')","labelFont":"Liberation Serif","labelFontSize":18.5,"labelColor":"black","labelLineHeight":21.5,"labelPadding":-21}},
"column":{"field":"m","type":"nominal","sort":["CFD","Prediction"],
"header":{"title":null,"labelOrient":"top","labelExpr":"datum.value + '\u00a0\u00a0\u00a0\u00a0'","labelFont":"Liberation Serif","labelFontSize":18,"labelColor":"black","labelPadding":6}}
},
"spacing":{"row":38,"column":20},
"spec":{
"width":390,"height":56,
"layer":[
{"transform":[{"filter":"isValid(datum.T)"}],
"mark":{"type":"rect","binSpacing":0,"strokeWidth":0.6},
"encoding":{
"x":{"field":"x","type":"quantitative","bin":{"step":1,"extent":[0,40],"nice":false},"scale":{"domain":[0,39],"nice":false,"zero":false},"axis":null},
"y":{"field":"y","type":"quantitative","bin":{"step":1,"extent":[0,4],"nice":false},"scale":{"domain":[0,3],"nice":false,"zero":false},"axis":null},
"color":{"field":"T","type":"quantitative","scale":{"type":"quantize","domain":[1300,1650],"nice":false,"zero":false,"range":["#2E4A9E","#33479F","#3A40A0","#2F48A0","#2E57A8","#3562AE","#4474B8","#4D88C4","#5B9ECF","#62B1DB","#6BC6E2","#80D3E0","#92E0D8","#8EDFD0","#8ADEC8","#85DCBE","#7FD8B4","#7BD6AA","#76D5A0","#70D394","#6ACF86","#64CD78","#5FC96A","#5EC85C","#5FC654","#62C64F","#66C84E","#6CCA4E","#78CC4E","#84CE4E","#92D24E","#A2D654","#B4DA50","#C6E04A","#D6E244","#E6E23A","#EEE032","#F8D216","#F6B822","#F4A622","#F39A22","#F28C24","#F07C24","#EE6C22","#EA5C22","#E84C22","#E43E24","#E03426"]},"legend":null},
"stroke":{"field":"T","type":"quantitative","scale":{"type":"quantize","domain":[1300,1650],"nice":false,"zero":false,"range":["#2E4A9E","#33479F","#3A40A0","#2F48A0","#2E57A8","#3562AE","#4474B8","#4D88C4","#5B9ECF","#62B1DB","#6BC6E2","#80D3E0","#92E0D8","#8EDFD0","#8ADEC8","#85DCBE","#7FD8B4","#7BD6AA","#76D5A0","#70D394","#6ACF86","#64CD78","#5FC96A","#5EC85C","#5FC654","#62C64F","#66C84E","#6CCA4E","#78CC4E","#84CE4E","#92D24E","#A2D654","#B4DA50","#C6E04A","#D6E244","#E6E23A","#EEE032","#F8D216","#F6B822","#F4A622","#F39A22","#F28C24","#F07C24","#EE6C22","#EA5C22","#E84C22","#E43E24","#E03426"]},"legend":null}
}},
{"transform":[{"filter":"isValid(datum.bx)"}],
"mark":{"type":"point","shape":"circle","filled":true,"fill":"#5FB6E2","opacity":0.85,"size":36,"strokeWidth":0},
"encoding":{
"x":{"field":"bx","type":"quantitative"},
"y":{"field":"by","type":"quantitative"}
}},
{"transform":[{"filter":"isValid(datum.hx)"}],
"mark":{"type":"point","shape":"M-1,0A1,0.75 0 1,1 1,0A1,0.75 0 1,1 -1,0Z","filled":true,"fill":"white","opacity":1,"size":441,"strokeWidth":0},
"encoding":{
"x":{"field":"hx","type":"quantitative"},
"y":{"field":"hy","type":"quantitative"}
}}
]
}
},
{
"data":{"name":"bar"},
"width":796,"height":34,
"mark":{"type":"rect","binSpacing":0},
"encoding":{
"x":{"field":"T","type":"quantitative","bin":{"step":7.291666666666667,"extent":[1300,1660],"nice":false},"scale":{"domain":[1300,1650],"nice":false,"zero":false},
"axis":{"values":[1300,1343.75,1387.5,1431.25,1475,1518.75,1562.5,1606.25,1650],"format":".0f","ticks":false,"tickSize":0,"domain":false,"grid":false,"labelFlush":false,"labelOverlap":false,"labelFont":"Liberation Serif","labelFontSize":13,"labelColor":"black","labelPadding":11,"title":"T/K","titleFont":"Liberation Serif","titleFontSize":18,"titleFontWeight":"normal","titleColor":"black","titlePadding":14}},
"color":{"field":"T","type":"quantitative","scale":{"type":"quantize","domain":[1300,1650],"nice":false,"zero":false,"range":["#2E4A9E","#33479F","#3A40A0","#2F48A0","#2E57A8","#3562AE","#4474B8","#4D88C4","#5B9ECF","#62B1DB","#6BC6E2","#80D3E0","#92E0D8","#8EDFD0","#8ADEC8","#85DCBE","#7FD8B4","#7BD6AA","#76D5A0","#70D394","#6ACF86","#64CD78","#5FC96A","#5EC85C","#5FC654","#62C64F","#66C84E","#6CCA4E","#78CC4E","#84CE4E","#92D24E","#A2D654","#B4DA50","#C6E04A","#D6E244","#E6E23A","#EEE032","#F8D216","#F6B822","#F4A622","#F39A22","#F28C24","#F07C24","#EE6C22","#EA5C22","#E84C22","#E43E24","#E03426"]},"legend":null}
}
}
]
}
